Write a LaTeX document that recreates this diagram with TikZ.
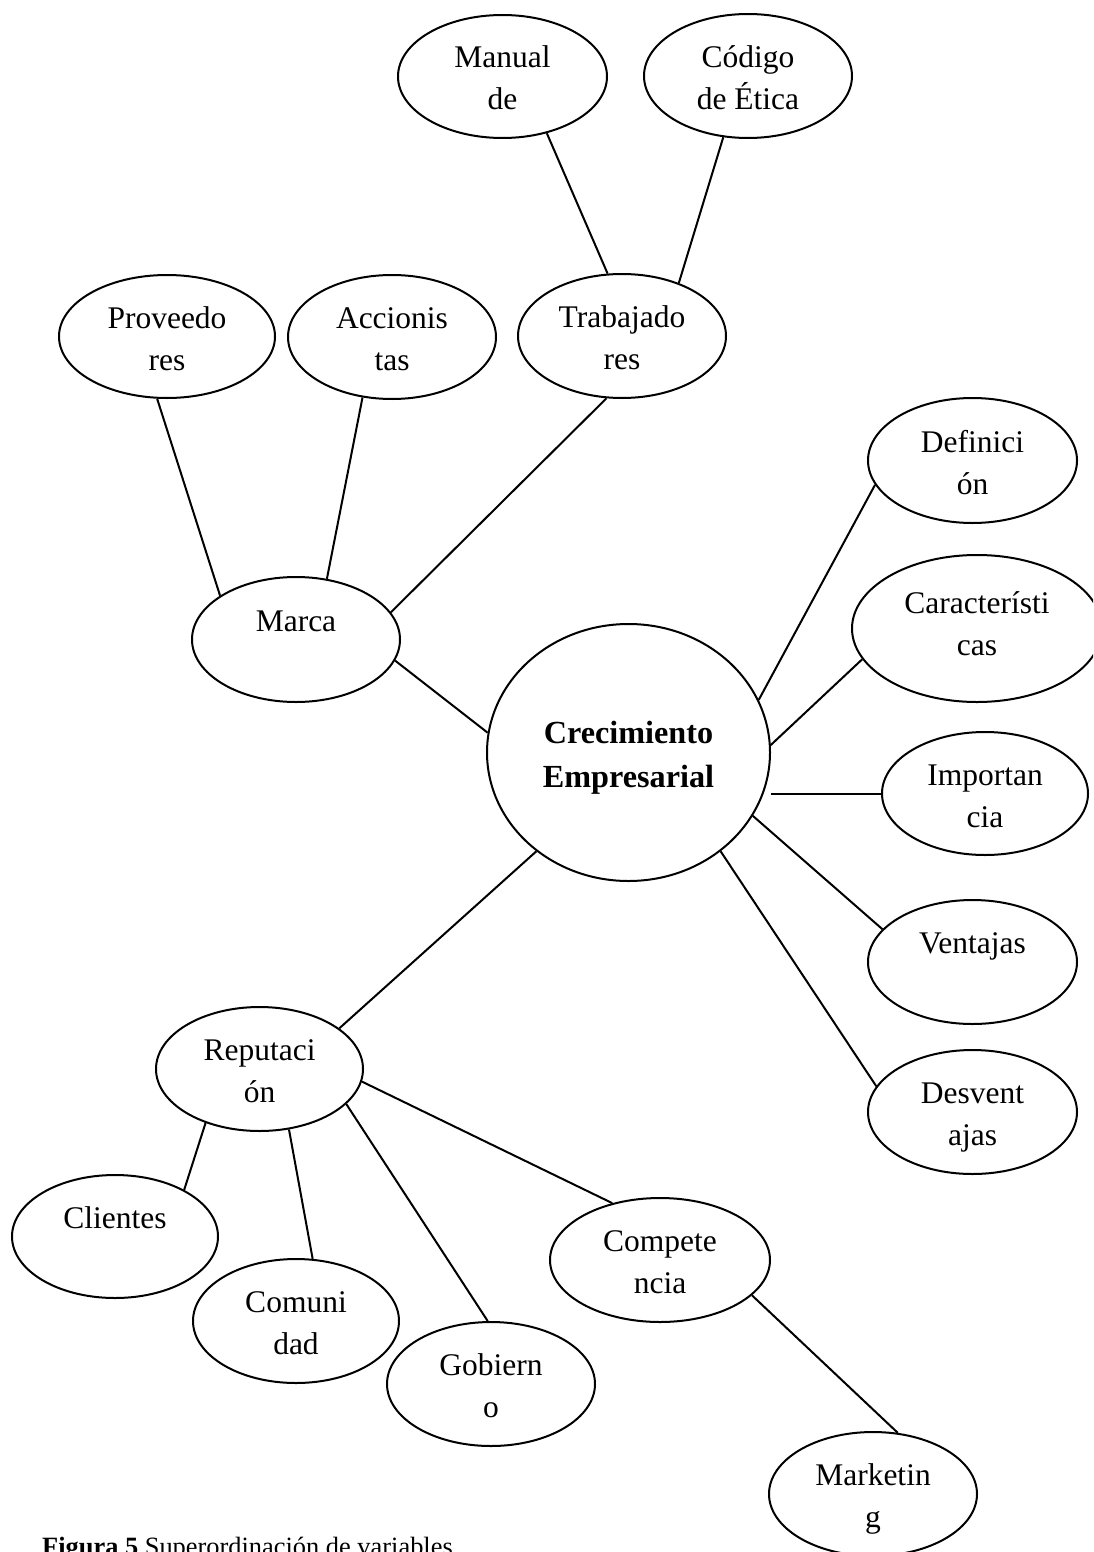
\documentclass[tikz,border=0pt]{standalone}
\usepackage{fontspec}
\setmainfont{Liberation Serif}
\usetikzlibrary{shapes.geometric}
\newcommand\lst{\rule[-8.5pt]{0pt}{42pt}}
\newcommand\lstdeep{\rule[-22.5pt]{0pt}{56pt}}
\begin{document}
\begin{tikzpicture}[x=1pt,y=-1pt,
  bub/.style={draw, ellipse, line width=2pt, inner sep=0pt, align=center,
    font=\fontsize{31.5}{42}\selectfont},
  sz/.style 2 args={minimum width=#1pt, minimum height=#2pt},
  link/.style={line width=2pt}]
\useasboundingbox (0,0) rectangle (1093,1552);
\clip (0,0) rectangle (1093,1552);

\node[bub, sz={209}{123}] (man) at (502.5,76.5) {\lst Manual\\\lst de};
\node[bub, sz={208}{124}] (cod) at (748,76) {\lst Código\\\lst de Ética};
\node[bub, sz={216}{123}] (prov) at (167,336.5) {\lst Proveedo\\\lst res};
\node[bub, sz={208}{124}] (acc) at (392,337) {\lst Accionis\\\lst tas};
\node[bub, sz={208}{124}] (trab) at (622,336) {\lst Trabajado\\\lst res};
\node[bub, sz={208}{125}] (marca) at (296,639.5) {\lst Marca\\\lst};
\node[bub, sz={283}{257}, font=\fontsize{32.2}{44}\selectfont\bfseries] (ce) at (628.5,752.5) {\lst Crecimiento\\\lst Empresarial};
\node[bub, sz={209}{125}] (def) at (972.5,460.5) {\lst Definici\\\lst ón};
\node[bub, sz={250}{147}] (car) at (977,628.5) {\lst Característi\\\lstdeep cas};
\node[bub, sz={206}{123}] (imp) at (985,793.5) {\lst Importan\\\lst cia};
\node[bub, sz={209}{124}] (ven) at (972.5,962) {\lst Ventajas\\\lst};
\node[bub, sz={209}{124}] (des) at (972.5,1112) {\lst Desvent\\\lst ajas};
\node[bub, sz={207}{124}] (rep) at (259.5,1069) {\lst Reputaci\\\lst ón};
\node[bub, sz={206}{123}] (cli) at (115,1236.5) {\lst Clientes\\\lst};
\node[bub, sz={206}{124}] (com) at (296,1321) {\lst Comuni\\\lst dad};
\node[bub, sz={208}{124}] (gob) at (491,1384) {\lst Gobiern\\\lst o};
\node[bub, sz={220}{124}] (cmp) at (660,1260) {\lst Compete\\\lst ncia};
\node[bub, sz={208}{124}] (mkt) at (873,1494) {\lst Marketin\\\lst g};

\node[anchor=base west, inner sep=0pt, font=\fontsize{26.4}{30}\selectfont] (cap) at (42,1555)
  {\textbf{Figura 5} Superordinación de variables};

\draw[link] (man.-52.3) -- (trab.103.8);
\draw[link] (cod.248.8) -- (trab.43.7);
\draw[link] (prov.261.9) -- (marca.150);
\draw[link] (acc.244.5) -- (marca.63.3);
\draw[link] (trab.256.8) -- (marca.16.3);
\draw[link] (marca.-12.2) -- (ce.172.1);
\draw[link] (ce.22.2) -- (def.194.9);
\draw[link] (ce.3) -- (car.195);
\draw[link] (imp.west) -- (imp.west -| ce.east);
\draw[link] (ce.-27) -- (ven.160.5);
\draw[link] (ce.-47) -- (des.165);
\draw[link] (ce.227.6) -- (rep.27.7);
\draw[link] (rep.225.8) -- (cli.34.9);
\draw[link] (rep.-64.2) -- (com.75.5);
\draw[link] (rep.-22.4) -- (gob.93.4);
\draw[link] (rep.-7.2) -- (cmp.130);
\draw[link] (cmp.-21.9) -- (mkt.68.8);
\end{tikzpicture}
\end{document}
